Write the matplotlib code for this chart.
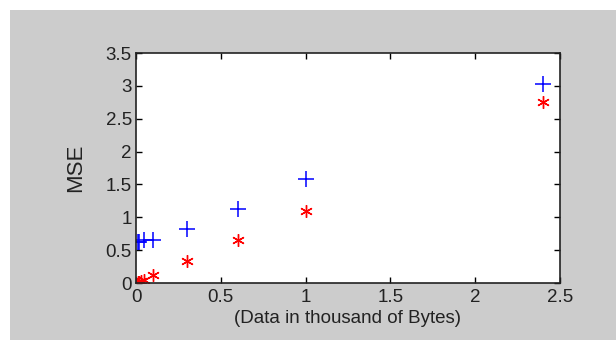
import matplotlib
matplotlib.use('Agg')
import matplotlib.pyplot as plt
from matplotlib.patches import Rectangle

# data
data_kb = [0.01, 0.02, 0.05, 0.1, 0.3, 0.6, 1.0, 2.4]
mse_blue = [0.62, 0.63, 0.65, 0.66, 0.82, 1.13, 1.59, 3.03]
data_kb_red = [0.01, 0.02, 0.03, 0.05, 0.1, 0.3, 0.6, 1.0, 2.4]
mse_red = [0.01, 0.02, 0.03, 0.05, 0.12, 0.34, 0.65, 1.09, 2.75]

xticks = [0, 0.5, 1, 1.5, 2, 2.5]
xticklabels = ['0', '0.5', '1', '1.5', '2', '2.5']
yticks = [0, 0.5, 1, 1.5, 2, 2.5, 3, 3.5]
yticklabels = ['0', '0.5', '1', '1.5', '2', '2.5', '3', '3.5']

plt.rcParams['font.family'] = ['Liberation Sans', 'DejaVu Sans']

fig = plt.figure(figsize=(6.16, 3.4), dpi=100)
fig.patch.set_facecolor('white')
# grey matlab-like figure background, offset from the top-left corner
fig.patches.append(Rectangle((10/616., 0), 606/616., 330/340., transform=fig.transFigure,
                             facecolor='#cccccc', edgecolor='none', zorder=-10))

ax = fig.add_axes([136/616., 57/340., 424/616., 230/340.])
ax.plot(data_kb, mse_blue, linestyle='none', marker='+', color='blue',
        markersize=11, markeredgewidth=1.1)
ax.plot(data_kb_red, mse_red, linestyle='none', marker=(6, 2, 0), color='red',
        markersize=9, markeredgewidth=1.0)

ax.set_xlim(0, 2.5)
ax.set_ylim(0, 3.5)
ax.set_xticks(xticks)
ax.set_xticklabels(xticklabels)
ax.set_yticks(yticks)
ax.set_yticklabels(yticklabels)
ax.tick_params(direction='in', top=True, right=True, length=4, width=1,
               labelsize=13.5, labelcolor='#222222')
ax.tick_params(axis='x', pad=4)
ax.tick_params(axis='y', pad=3)
for s in ax.spines.values():
    s.set_linewidth(1.2)
    s.set_color('#222222')

ax.set_xlabel('(Data in thousand of Bytes)', fontsize=13.5, color='#222222', labelpad=3)
ax.set_ylabel('MSE', fontsize=16, color='#222222', labelpad=14)

fig.savefig('out.png', dpi=100, facecolor=fig.get_facecolor())
